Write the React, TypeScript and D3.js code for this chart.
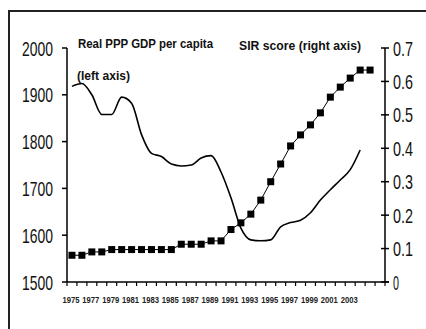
import React from "react";
import * as d3 from "d3";

const years = d3.range(1975, 2007); // category axis 1975..2006
const tickLabelYears = [1975, 1977, 1979, 1981, 1983, 1985, 1987, 1989, 1991, 1993, 1995, 1997, 1999, 2001, 2003];
const gdpYears = d3.range(1975, 2005);
const gdpValues = [1918, 1924, 1900, 1858, 1858, 1895, 1882, 1815, 1775, 1768, 1752, 1748, 1750, 1765, 1770, 1735, 1680, 1615, 1590, 1588, 1590, 1618, 1627, 1632, 1648, 1675, 1697, 1718, 1740, 1782];
const sirYears = d3.range(1975, 2006);
const sirValues = [0.08, 0.08, 0.09, 0.09, 0.097, 0.097, 0.097, 0.097, 0.097, 0.097, 0.097, 0.113, 0.113, 0.113, 0.123, 0.123, 0.157, 0.177, 0.203, 0.245, 0.3, 0.353, 0.407, 0.44, 0.47, 0.506, 0.553, 0.583, 0.61, 0.634, 0.634];
const leftTicks = [1500, 1600, 1700, 1800, 1900, 2000];
const rightTicks = [0, 0.1, 0.2, 0.3, 0.4, 0.5, 0.6, 0.7];
const gdpLabel = ["Real PPP GDP per capita", "(left axis)"];
const sirLabel = "SIR score (right axis)";

const FONT = "'Liberation Sans Narrow', 'Arial Narrow', 'Liberation Sans', Arial, sans-serif";

export default function App() {
  const x0 = 67, x1 = 385, yTop = 48, yBot = 282;
  const x = d3.scaleBand<number>().domain(years).range([x0, x1]).padding(0);
  const cx = (yr: number) => (x(yr) as number) + x.bandwidth() / 2;
  const yL = d3.scaleLinear().domain([1500, 2000]).range([yBot, yTop]);
  const yR = d3.scaleLinear().domain([0, 0.7]).range([yBot, yTop]);

  const gdpLine = d3.line<number>().x((_, i) => cx(gdpYears[i])).y((d) => yL(d)).curve(d3.curveMonotoneX)(gdpValues) as string;
  const sirLine = d3.line<number>().x((_, i) => cx(sirYears[i])).y((d) => yR(d))(sirValues) as string;

  const boundaries = years.map((yr) => x(yr) as number).concat([x1]);

  return (
    <svg width={426} height={329} style={{ position: "absolute", left: 0, top: 0, background: "#fff" }}>
      <rect x={9} y={11} width={600} height={500} fill="none" stroke="#222" strokeWidth={2} />
      {/* left axis */}
      <line x1={x0} x2={x0} y1={yTop} y2={yBot} stroke="#000" strokeWidth={1.5} />
      {leftTicks.map((t) => (
        <g key={t}>
          <line x1={x0 - 5} x2={x0} y1={yL(t)} y2={yL(t)} stroke="#000" strokeWidth={1.5} />
          <text x={53} y={yL(t) + 7.5} textAnchor="end" fontFamily={FONT} fontSize={21} textLength={31} lengthAdjust="spacingAndGlyphs" fill="#111">{t}</text>
        </g>
      ))}
      {/* right axis */}
      <line x1={x1} x2={x1} y1={yTop} y2={yBot} stroke="#000" strokeWidth={1.5} />
      {rightTicks.map((t) => {
        const s = t === 0 ? "0" : d3.format(".1f")(t);
        return (
          <g key={t}>
            <line x1={x1 - 4} x2={x1 + 4} y1={yR(t)} y2={yR(t)} stroke="#000" strokeWidth={1.5} />
            <text x={393} y={yR(t) + 7.5} textAnchor="start" fontFamily={FONT} fontSize={21} textLength={s.length === 1 ? 6 : 20} lengthAdjust="spacingAndGlyphs" fill="#111">{s}</text>
          </g>
        );
      })}
      {/* x axis */}
      <line x1={x0} x2={x1 + 4} y1={yBot} y2={yBot} stroke="#000" strokeWidth={1.5} />
      {boundaries.map((b, i) => (
        <line key={i} x1={b} x2={b} y1={yBot} y2={yBot + 4} stroke="#000" strokeWidth={1.2} />
      ))}
      {tickLabelYears.map((yr) => (
        <text key={yr} x={cx(yr) - 1} y={303} textAnchor="middle" fontFamily={FONT} fontSize={9.5} fontWeight="bold" textLength={17} lengthAdjust="spacingAndGlyphs" fill="#222">{yr}</text>
      ))}
      {/* series */}
      <path d={gdpLine} fill="none" stroke="#000" strokeWidth={1.6} />
      <path d={sirLine} fill="none" stroke="#000" strokeWidth={1} />
      {sirValues.map((v, i) => (
        <rect key={i} x={cx(sirYears[i]) - 3.5} y={yR(v) - 3.5} width={7} height={7} fill="#000" />
      ))}
      {/* labels */}
      <text x={78} y={48} fontFamily={FONT} fontSize={13.5} fontWeight="bold" textLength={135} lengthAdjust="spacingAndGlyphs" fill="#111">{gdpLabel[0]}</text>
      <text x={77} y={80} fontFamily={FONT} fontSize={13.5} fontWeight="bold" textLength={53} lengthAdjust="spacingAndGlyphs" fill="#111">{gdpLabel[1]}</text>
      <text x={239} y={50} fontFamily={FONT} fontSize={13.5} fontWeight="bold" textLength={122} lengthAdjust="spacingAndGlyphs" fill="#111">{sirLabel}</text>
    </svg>
  );
}
